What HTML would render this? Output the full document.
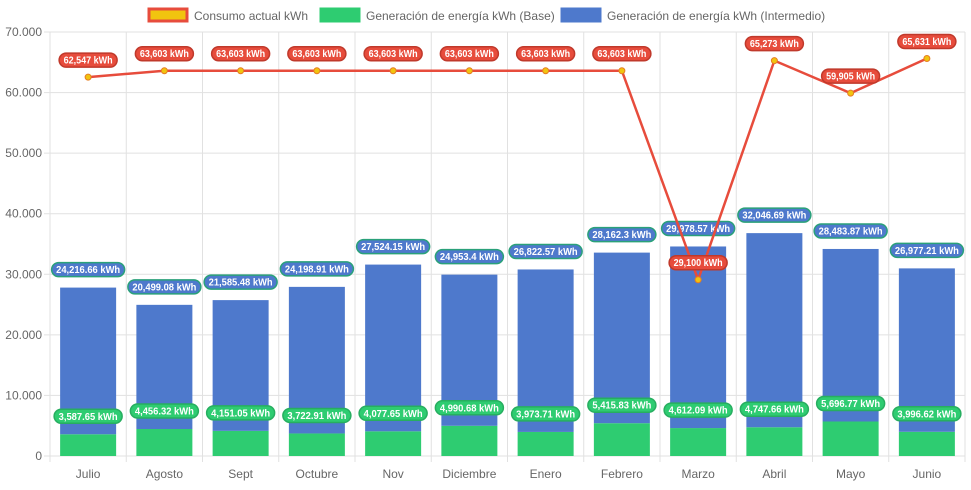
<!DOCTYPE html>
<html><head><meta charset="utf-8"><style>
body{margin:0;background:#fff;font-family:"Liberation Sans",sans-serif}
svg text{font-family:"Liberation Sans",sans-serif}
</style></head><body>
<svg id="c" width="971" height="485"></svg>
<script>
const categories=["Julio","Agosto","Sept","Octubre","Nov","Diciembre","Enero","Febrero","Marzo","Abril","Mayo","Junio"];
const baseVals=[3587.65,4456.32,4151.05,3722.91,4077.65,4990.68,3973.71,5415.83,4612.09,4747.66,5696.77,3996.62];
const interVals=[24216.66,20499.08,21585.48,24198.91,27524.15,24953.4,26822.57,28162.3,29978.57,32046.69,28483.87,26977.21];
const consumo=[62547,63603,63603,63603,63603,63603,63603,63603,29100,65273,59905,65631];
const yTicks=[0,10000,20000,30000,40000,50000,60000,70000];
const NS="http://www.w3.org/2000/svg",svg=document.getElementById('c');
const L=50,R=965,T=32,B=456,yMax=70000;
const bw=(R-L)/categories.length;
const x=i=>L+bw*(i+0.5);
const y=v=>B-(v/yMax)*(B-T);
function el(t,a,p){const e=document.createElementNS(NS,t);for(const k in a)e.setAttribute(k,a[k]);(p||svg).appendChild(e);return e;}
yTicks.forEach(v=>{
 const g=el('line',{x1:L-6,x2:R,y1:y(v),y2:y(v),stroke:'#e1e1e1'});
 
 const t=el('text',{x:L-8,y:y(v)+4,'text-anchor':'end','font-size':12,fill:'#666'});
 t.textContent=v===0?'0':(v/1000)+'.000';
 
});
for(let i=0;i<=categories.length;i++){
 const g=el('line',{x1:L+bw*i,x2:L+bw*i,y1:T,y2:B+6,stroke:'#e1e1e1'});
 
}
const bwid=56;
function label(cx,cy,txt,bg,bd,name){
 const w=txt.length*5.0+8;
 const r=el('rect',{x:cx-w/2,y:cy-7,width:w,height:14,rx:7,fill:bg,stroke:bd,'stroke-width':1.5});
 
 const t=el('text',{x:cx,y:cy+3.5,'text-anchor':'middle','font-size':10,'font-weight':'bold',fill:'#fff',textLength:w-9,lengthAdjust:'spacingAndGlyphs'});
 t.textContent=txt;
}
const fmt=v=>v.toLocaleString('en-US',{maximumFractionDigits:2})+' kWh';
categories.forEach((c,i)=>{
 const yb=y(baseVals[i]),yt=y(baseVals[i]+interVals[i]);
 const r1=el('rect',{x:x(i)-bwid/2,y:yb,width:bwid,height:B-yb,fill:'#2ecc71'});
 
 const r2=el('rect',{x:x(i)-bwid/2,y:yt,width:bwid,height:yb-yt,fill:'#4e79cc'});
 
 const t=el('text',{x:x(i),y:B+22,'text-anchor':'middle','font-size':12,fill:'#666'});
 t.textContent=c;
});
categories.forEach((c,i)=>{
 label(x(i),y(baseVals[i])-18,fmt(baseVals[i]),'#2ecc71','#27ae60','base-value-label');
 label(x(i),y(baseVals[i]+interVals[i])-18,fmt(interVals[i]),'#4e79cc','#2aa17a','intermedio-value-label');
});
const pl=el('polyline',{points:consumo.map((v,i)=>x(i)+','+y(v)).join(' '),fill:'none',stroke:'#e74c3c','stroke-width':2.5});

consumo.forEach((v,i)=>{
 const p=el('circle',{cx:x(i),cy:y(v),r:3,fill:'#f1c40f',stroke:'#e67e22','stroke-width':1});
 
});
consumo.forEach((v,i)=>label(x(i),y(v)-17,v.toLocaleString('en-US')+' kWh','#e74c3c','#c0392b','consumo-value-label'));
const leg=[["Consumo actual kWh",'#f1c40f','#e74c3c',148],["Generación de energía kWh (Base)",'#2ecc71','#2ecc71',320],["Generación de energía kWh (Intermedio)",'#4e79cc','#4e79cc',561]];
leg.forEach(([n,f,s,lx])=>{
 const g=el('g',{});
 el('rect',{x:lx+1,y:9,width:38,height:12,fill:f,stroke:s,'stroke-width':3},g);
 const t=el('text',{x:lx+46,y:20,'font-size':12,fill:'#666'},g);t.textContent=n;
});
</script>
</body></html>
